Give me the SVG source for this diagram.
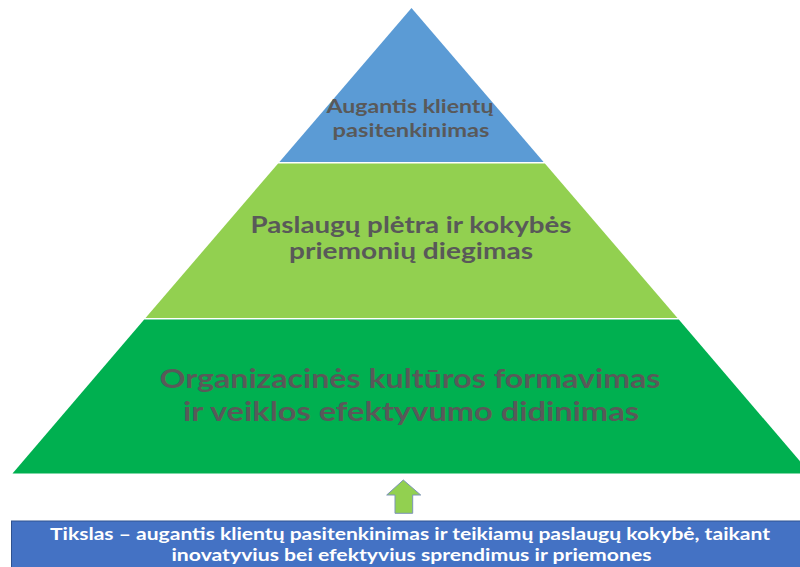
<svg xmlns="http://www.w3.org/2000/svg" width="800" height="567" viewBox="0 0 800 567">
<style>
.t{font-family:Lato,"Open Sans","Liberation Sans",sans-serif;font-weight:bold;fill:#595959;text-anchor:middle}
.w{font-family:Lato,"Open Sans","Liberation Sans",sans-serif;font-weight:bold;fill:#ffffff;text-anchor:middle;font-size:17px}
</style>
<rect width="800" height="567" fill="#ffffff"/>
<g id="top">
<polygon points="411.5,8 543.6,162 279.4,162" fill="#5B9BD5"/>
<text class="t" font-size="19" x="410" y="113" textLength="167" lengthAdjust="spacingAndGlyphs">Augantis klientų</text>
<text class="t" font-size="19" x="411" y="137" textLength="157" lengthAdjust="spacingAndGlyphs">pasitenkinimas</text>
</g>
<g id="middle">
<polygon points="278.1,163.5 544.9,163.5 677.5,318 145.5,318" fill="#92D050"/>
<text class="t" font-size="22" x="411" y="233" textLength="321" lengthAdjust="spacingAndGlyphs">Paslaugų plėtra ir kokybės</text>
<text class="t" font-size="22" x="411" y="259" textLength="244" lengthAdjust="spacingAndGlyphs">priemonių diegimas</text>
</g>
<g id="bottom">
<polygon points="144.2,319.5 678.8,319.5 810.5,473.5 12.5,473.5" fill="#00B050"/>
<text class="t" font-size="27" x="410" y="388" textLength="501" lengthAdjust="spacingAndGlyphs">Organizacinės kultūros formavimas</text>
<text class="t" font-size="27" x="411" y="421" textLength="456" lengthAdjust="spacingAndGlyphs">ir veiklos efektyvumo didinimas</text>
</g>
<g id="connectors">
<polygon points="403.3,480 420.7,495 412.7,495 412.7,513.3 395,513.3 395,495 386.7,495" fill="#92D050" stroke="#7C93B8" stroke-width="1"/>
</g>
<g id="goal">
<rect x="11.5" y="521" width="800" height="50" fill="#4472C4" stroke="#2F528F" stroke-width="1"/>
<text class="w" x="410" y="540" textLength="720" lengthAdjust="spacingAndGlyphs">Tikslas – augantis klientų pasitenkinimas ir teikiamų paslaugų kokybė, taikant</text>
<text class="w" x="411.5" y="561" textLength="480" lengthAdjust="spacingAndGlyphs">inovatyvius bei efektyvius sprendimus ir priemones</text>
</g>
</svg>
